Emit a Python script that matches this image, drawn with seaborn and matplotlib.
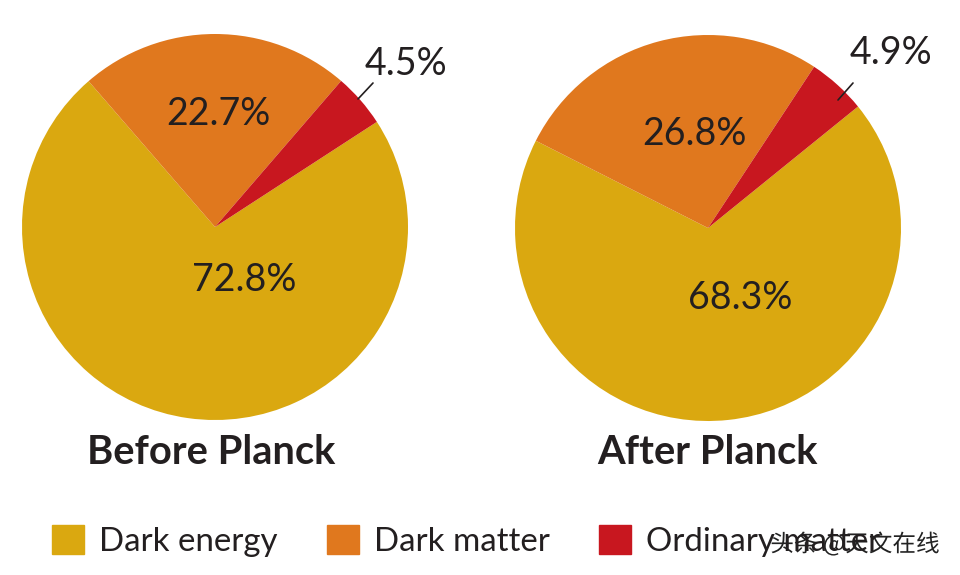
import matplotlib
matplotlib.use("Agg")
import matplotlib.pyplot as plt
import matplotlib.patches as mpatches
import matplotlib.patheffects as pe
import seaborn as sns

categories = ["Dark energy", "Dark matter", "Ordinary matter"]
before_values = [72.8, 22.7, 4.5]
after_values = [68.3, 26.8, 4.9]
titles = ["Before Planck", "After Planck"]
colors = ["#DAA810", "#E0781E", "#C8171F"]
watermark = "头条 @天文在线"

sns.set_theme(style="white")
plt.rcParams["font.family"] = ["Lato", "Noto Sans CJK SC", "DejaVu Sans"]

W, H = 960, 575
fig = plt.figure(figsize=(9.6, 5.75), dpi=100)
ax = fig.add_axes([0, 0, 1, 1])

def Y(y):
    return H - y

txtcol = "#231f20"

pies = [
    dict(vals=before_values, center=(215, Y(227)), start=33,
         big=(244, Y(280)), mid=(218, Y(114)), small=(406, Y(64)),
         line=((373, Y(83)), (358, Y(99))), title=(211, Y(452))),
    dict(vals=after_values, center=(708, Y(228)), start=39,
         big=(740, Y(298)), mid=(694, Y(134)), small=(891, Y(53)),
         line=((853, Y(83)), (838, Y(100))), title=(707, Y(452))),
]

for p, t in zip(pies, titles):
    wedges, _ = ax.pie(p["vals"], colors=colors, center=p["center"], radius=193,
                       startangle=p["start"], counterclock=False,
                       wedgeprops=dict(linewidth=0), frame=True)
    v = p["vals"]
    for pos, val in zip((p["big"], p["mid"], p["small"]), v):
        ax.text(*pos, f"{val:.1f}%", ha="center", va="center", fontsize=27, color=txtcol)
    (x0, y0), (x1, y1) = p["line"]
    ax.plot([x0, x1], [y0, y1], color=txtcol, lw=1.2)
    ax.text(*p["title"], t, ha="center", va="center", fontsize=28.7, fontweight="bold", color=txtcol)

ax.set_xlim(0, W)
ax.set_ylim(0, H)
ax.set_aspect("equal")
ax.axis("off")

handles = [mpatches.Patch(color=c, label=l) for c, l in zip(colors, categories)]
fig.legend(handles=handles, loc="lower left", bbox_to_anchor=(52 / W, 18 / H),
           ncol=3, frameon=False, fontsize=23.8, handlelength=0.97, handleheight=0.97,
           handletextpad=0.45, columnspacing=1.5, borderpad=0, borderaxespad=0,
           labelcolor=txtcol)

ax.text(855, Y(544), watermark, ha="center", va="center", fontsize=17, color="#222222",
        family=["Noto Sans CJK SC", "DejaVu Sans"],
        path_effects=[pe.withStroke(linewidth=3, foreground="white")])

fig.savefig("out.png", dpi=100)
